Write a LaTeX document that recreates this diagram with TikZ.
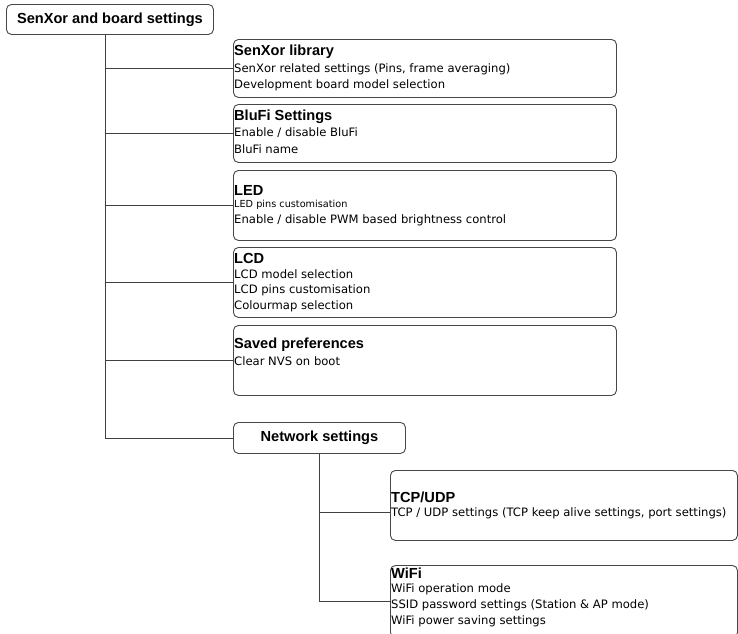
\documentclass[tikz,border=0pt]{standalone}
\usepackage{fontspec}
\setmainfont{DejaVu Sans}
\newfontfamily\ttlfont{Liberation Sans}
\begin{document}
\begin{tikzpicture}[x=1pt,y=-1pt,
  box/.style={draw=black!72,line width=0.9pt,rounded corners=5pt,inner sep=0pt,anchor=north west},
  conn/.style={draw=black!75,line width=0.9pt},
  ttlf/.style={font=\ttlfont\fontsize{14.6}{16}\selectfont\bfseries},
  ttl/.style={ttlf,anchor=west,inner sep=0pt},
  txt/.style={anchor=west,inner sep=0pt,font=\fontsize{11.6}{13}\selectfont},
  sml/.style={anchor=west,inner sep=0pt,font=\fontsize{9.7}{11}\selectfont}]
\useasboundingbox (0,0) rectangle (738,633);
% root
\node[box,ttlf,minimum width=207pt,minimum height=30pt] (root) at (6,4) {SenXor and board settings};
% boxes
\node[box,minimum width=383pt,minimum height=58pt] (b1) at (233,39) {};
\node[box,minimum width=383pt,minimum height=58pt] (b2) at (233,104) {};
\node[box,minimum width=383pt,minimum height=70pt] (b3) at (233,170) {};
\node[box,minimum width=383pt,minimum height=70pt] (b4) at (233,247) {};
\node[box,minimum width=383pt,minimum height=70pt] (b5) at (233,325) {};
\node[box,ttlf,minimum width=172pt,minimum height=31pt] (net) at (233,422) {Network settings};
\node[box,minimum width=347pt,minimum height=70pt] (tcp) at (390,470) {};
\node[box,minimum width=347pt,minimum height=72pt] (wifi) at (390,565) {};
% texts
\node[ttl] (t1) at (234,52) {SenXor library};
\node[txt] (t1a) at (234,69) {SenXor related settings (Pins, frame averaging)};
\node[txt] (t1b) at (234,85) {Development board model selection};
\node[ttl] (t2) at (234,117) {BluFi Settings};
\node[txt] (t2a) at (234,133) {Enable / disable BluFi};
\node[txt] (t2b) at (234,149) {BluFi name};
\node[ttl] (t3) at (234,190) {LED};
\node[sml] (t3a) at (234,205) {LED pins customisation};
\node[txt] (t3b) at (234,220) {Enable / disable PWM based brightness control};
\node[ttl] (t4) at (234,258) {LCD};
\node[txt] (t4a) at (234,274) {LCD model selection};
\node[txt] (t4b) at (234,290) {LCD pins customisation};
\node[txt] (t4c) at (234,306) {Colourmap selection};
\node[ttl] (t5) at (234,345) {Saved preferences};
\node[txt] (t5a) at (234,361) {Clear NVS on boot};
\node[ttl] (t6) at (391,497) {TCP/UDP};
\node[txt] (t6a) at (391,513) {TCP / UDP settings (TCP keep alive settings, port settings)};
\node[ttl] (t7) at (391,573) {WiFi};
\node[txt] (t7a) at (391,589) {WiFi operation mode};
\node[txt] (t7b) at (391,605) {SSID password settings (Station \& AP mode)};
\node[txt] (t7c) at (391,621) {WiFi power saving settings};
% connectors
\coordinate (r0) at ([xshift=-5pt]root.south);
\draw[conn] (r0) |- (net.west);
\foreach \b in {b1,b2,b3,b4,b5} \draw[conn] (r0 |- \b.west) -- (\b.west);
\coordinate (tcpin) at ([yshift=-7pt]tcp.west);
\draw[conn] (net.south) |- (wifi.west);
\draw[conn] (net.south |- tcpin) -- (tcpin);
\end{tikzpicture}
\end{document}
